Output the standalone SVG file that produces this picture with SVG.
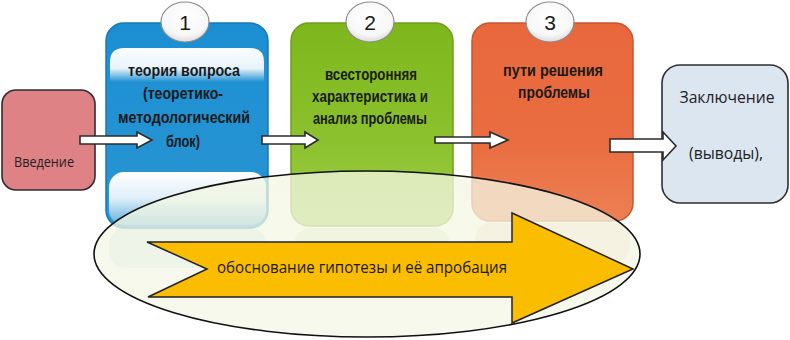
<svg xmlns="http://www.w3.org/2000/svg" width="790" height="340" viewBox="0 0 790 340">
  <defs>
    <linearGradient id="gBlue" x1="0" y1="0" x2="0" y2="1">
      <stop offset="0" stop-color="#1b8fd3"/>
      <stop offset="1" stop-color="#2a95d2"/>
    </linearGradient>
    <linearGradient id="gGreen" x1="0" y1="0" x2="0" y2="1">
      <stop offset="0" stop-color="#7db71c"/>
      <stop offset="0.6" stop-color="#8cc22e"/>
      <stop offset="1" stop-color="#9fcd4a"/>
    </linearGradient>
    <linearGradient id="gOrange" x1="0" y1="0" x2="0" y2="1">
      <stop offset="0" stop-color="#e8683c"/>
      <stop offset="0.6" stop-color="#e96d40"/>
      <stop offset="1" stop-color="#ec8054"/>
    </linearGradient>
    <linearGradient id="gTopHi" x1="0" y1="0" x2="0" y2="1">
      <stop offset="0" stop-color="#ffffff" stop-opacity="0.98"/>
      <stop offset="0.6" stop-color="#ffffff" stop-opacity="0.9"/>
      <stop offset="1" stop-color="#ffffff" stop-opacity="0"/>
    </linearGradient>
    <linearGradient id="gBotHi" x1="0" y1="0" x2="0" y2="1">
      <stop offset="0" stop-color="#ffffff" stop-opacity="1"/>
      <stop offset="0.5" stop-color="#ffffff" stop-opacity="0.85"/>
      <stop offset="1" stop-color="#ffffff" stop-opacity="0.25"/>
    </linearGradient>
    <radialGradient id="gCircle" cx="0.5" cy="0.35" r="0.65">
      <stop offset="0" stop-color="#ffffff"/>
      <stop offset="0.75" stop-color="#f7f7f7"/>
      <stop offset="1" stop-color="#dcdcdc"/>
    </radialGradient>
    <linearGradient id="gEll" x1="0" y1="0" x2="0" y2="1">
      <stop offset="0" stop-color="#f3f6e2"/>
      <stop offset="1" stop-color="#f5f7e8"/>
    </linearGradient>
  </defs>
  <style>
    .box { stroke-width: 1.5; }
    .plain { fill: #ffffff; stroke: #2b2b2b; stroke-width: 1.6; stroke-linejoin: miter; }
    .lbl { font-family: "Liberation Sans", Arial, sans-serif; font-weight: bold; font-size: 16px; fill: #1a1a1a; text-anchor: middle; }
    .lbn { font-family: "Open Sans", "Liberation Sans", sans-serif; font-size: 16px; fill: #222; text-anchor: middle; }
    .num { font-family: "Liberation Sans", Arial, sans-serif; font-size: 21px; fill: #1a1a1a; text-anchor: middle; }
    .circ { fill: url(#gCircle); stroke: #8a8a8a; stroke-width: 1.2; }
    .refl { opacity: 0.35; }
  </style>

  <!-- reflections -->
  <g id="reflections" class="refl">
    <rect x="109" y="228" width="157" height="40" rx="16" fill="#9fc7e0"/>
    <rect x="294" y="228" width="156" height="40" rx="16" fill="#b8d87c"/>
    <rect x="475" y="223" width="155" height="40" rx="16" fill="#f0ad8e"/>
  </g>

  <g id="node-vvedenie">
    <rect x="2" y="90" width="93" height="100" rx="14" fill="#df8286" stroke="#2e2e2e" stroke-width="1.6"/>
    <text x="44" y="167" font-family="'Open Sans', 'Liberation Sans', sans-serif" font-size="14" fill="#222" text-anchor="middle" textLength="60" lengthAdjust="spacingAndGlyphs">Введение</text>
  </g>

  <g id="node-1">
    <rect class="box" x="106" y="23" width="162" height="205" rx="18" fill="url(#gBlue)" stroke="#1878b8"/>
    <path d="M110 82 L110 62 Q110 48 124 48 L250 48 Q264 48 264 62 L264 82 Z" fill="url(#gTopHi)"/>
    <rect x="109" y="172" width="157" height="53" rx="15" fill="url(#gBotHi)"/>
  </g>

  <g id="node-2">
    <rect class="box" x="291" y="23" width="162" height="203" rx="18" fill="url(#gGreen)" stroke="#6f9e1c"/>
  </g>

  <g id="node-3">
    <rect class="box" x="472" y="23" width="161" height="198" rx="18" fill="url(#gOrange)" stroke="#c9552c"/>
  </g>

  <!-- ellipse backdrop -->
  <g id="node-ellipse">
    <ellipse cx="367" cy="254" rx="273" ry="83" fill="url(#gEll)" fill-opacity="0.76" stroke="#111" stroke-width="1.6"/>
  </g>

  <g id="node-arrow-big">
    <polygon points="147,242 512,242 512,213 633,269 512,323 512,297 148,297 207,269" fill="#fbbd00" stroke="#222" stroke-width="1.5" stroke-linejoin="miter"/>
    <text x="362" y="273" font-family="'Open Sans', 'Liberation Sans', sans-serif" font-size="17" fill="#1a1a1a" text-anchor="middle" textLength="290" lengthAdjust="spacingAndGlyphs">обоснование гипотезы и её апробация</text>
  </g>

  <g id="node-zakl">
    <rect x="662" y="65" width="126" height="138" rx="18" fill="#dce6f1" stroke="#2e2e2e" stroke-width="1.6"/>
    <text x="727" y="103" class="lbn" font-size="17" textLength="95" lengthAdjust="spacingAndGlyphs">Заключение</text>
    <text x="726" y="159" class="lbn" font-size="17" textLength="74" lengthAdjust="spacingAndGlyphs">(выводы),</text>
  </g>

  <!-- labels -->
  <g id="labels">
    <text class="lbl" x="184" y="76" textLength="112" lengthAdjust="spacingAndGlyphs">теория вопроса</text>
    <text class="lbl" x="183" y="99" textLength="80" lengthAdjust="spacingAndGlyphs">(теоретико-</text>
    <text class="lbl" x="184" y="123" textLength="132" lengthAdjust="spacingAndGlyphs">методологический</text>
    <text class="lbl" x="183" y="147" textLength="34" lengthAdjust="spacingAndGlyphs">блок)</text>

    <text class="lbl" x="371" y="80" textLength="92" lengthAdjust="spacingAndGlyphs">всесторонняя</text>
    <text class="lbl" x="370" y="102" textLength="116" lengthAdjust="spacingAndGlyphs">характеристика и</text>
    <text class="lbl" x="370" y="124" textLength="114" lengthAdjust="spacingAndGlyphs">анализ проблемы</text>

    <text class="lbl" x="553" y="76" textLength="100" lengthAdjust="spacingAndGlyphs">пути решения</text>
    <text class="lbl" x="554" y="98" textLength="72" lengthAdjust="spacingAndGlyphs">проблемы</text>
  </g>

  <!-- connectors -->
  <g id="connectors">
    <polygon class="plain" points="80,136 137,136 137,132 152,140 137,148 137,144 80,144"/>
    <polygon class="plain" points="262,136 305,136 305,132 318,140 305,148 305,144 262,144"/>
    <polygon class="plain" points="435,137 490,137 490,132 508,140 490,148 490,143 435,143"/>
    <polygon class="plain" points="610,139 663,139 663,132 676,146 663,160 663,152 610,152"/>
  </g>

  <!-- number badges -->
  <g id="badge-1">
    <ellipse class="circ" cx="185" cy="22" rx="24" ry="20"/>
    <text class="num" x="185" y="30">1</text>
  </g>
  <g id="badge-2">
    <ellipse class="circ" cx="370" cy="22" rx="24" ry="20"/>
    <text class="num" x="370" y="30">2</text>
  </g>
  <g id="badge-3">
    <ellipse class="circ" cx="550" cy="22" rx="24" ry="20"/>
    <text class="num" x="550" y="30">3</text>
  </g>
</svg>
